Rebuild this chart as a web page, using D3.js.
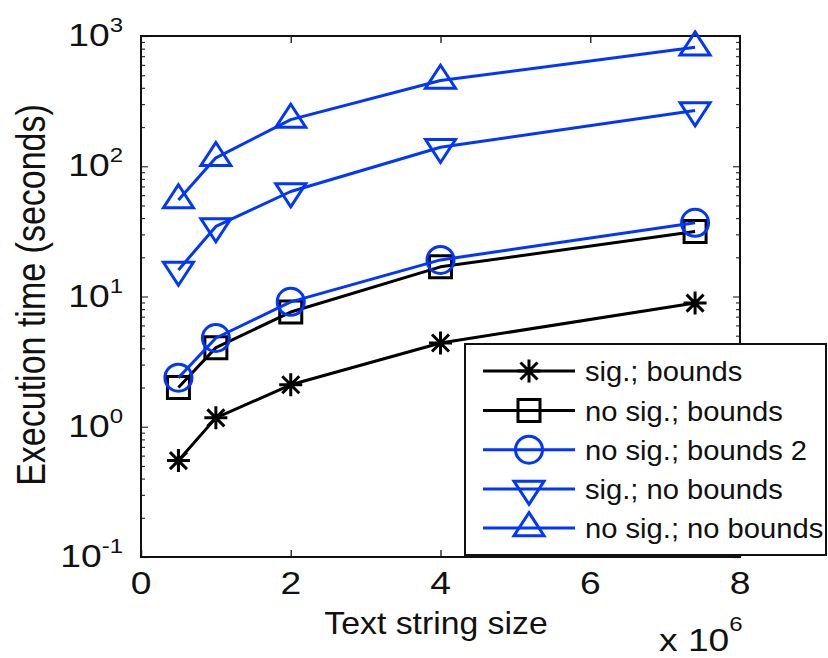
<!DOCTYPE html>
<html>
<head>
<meta charset="utf-8">
<script src="https://cdn.jsdelivr.net/npm/d3@7"></script>
<style>
  html, body { margin: 0; padding: 0; background: #fff; }
  svg { display: block; }
  text { font-family: "Liberation Sans", Arial, Helvetica, sans-serif; fill: #111; }
</style>
</head>
<body>
<svg id="chart" width="828" height="658"></svg>
<script>
// ---- data (x in units of 10^6 characters, y in seconds) ----
const textSizes = [0.5, 1, 2, 4, 7.4];
const sigBounds       = [0.55, 1.17, 2.1, 4.4, 8.9];
const noSigBounds     = [2.0, 4.05, 7.6, 16.9, 31.5];
const noSigBounds2    = [2.38, 4.8, 9.1, 19.1, 36.8];
const sigNoBounds     = [16, 34.5, 64, 140, 268];
const noSigNoBounds   = [55, 116, 228, 455, 820];
const seriesNames = ["sig.; bounds", "no sig.; bounds", "no sig.; bounds 2", "sig.; no bounds", "no sig.; no bounds"];
const xTickValues = [0, 2, 4, 6, 8];
const yTickValues = [0.1, 1, 10, 100, 1000];
const yTickExponents = ["-1", "0", "1", "2", "3"];

const BLUE = "#0036ff", BLACK = "#000";
const series = [
  { name: seriesNames[0], values: sigBounds,     color: BLACK, marker: "star" },
  { name: seriesNames[1], values: noSigBounds,   color: BLACK, marker: "square" },
  { name: seriesNames[2], values: noSigBounds2,  color: BLUE,  marker: "circle" },
  { name: seriesNames[3], values: sigNoBounds,   color: BLUE,  marker: "tridown" },
  { name: seriesNames[4], values: noSigNoBounds, color: BLUE,  marker: "triup" }
];

const svg = d3.select("#chart");
const L = 141, R = 740, T = 36, B = 557;
const x = d3.scaleLinear().domain([0, 8]).range([L, R]);
const y = d3.scaleLog().domain([0.1, 1000]).range([B, T]);

// helper: horizontally stretched text
function stretchedText(parent, px, py, sx, size, anchor) {
  return parent.append("g").attr("transform", `translate(${px},${py}) scale(${sx},1)`)
    .append("text").attr("x", 0).attr("y", 0).attr("font-size", size).attr("text-anchor", anchor || "start");
}

// marker paths
function markerPath(type) {
  if (type === "star") {
    const r = 11.5, a = 8.5;
    return `M${-r},0H${r}M0,${-r}V${r}M${-a},${-a}L${a},${a}M${-a},${a}L${a},${-a}`;
  }
  if (type === "square") { const s = 11; return `M${-s},${-s}H${s}V${s}H${-s}Z`; }
  if (type === "circle") { const r = 13.5; return `M${r},0A${r},${r} 0 1,1 ${-r},0A${r},${r} 0 1,1 ${r},0Z`; }
  const h = 23, w = 15;
  if (type === "triup") return `M0,${-2*h/3}L${w},${h/3}L${-w},${h/3}Z`;
  return `M0,${2*h/3}L${w},${-h/3}L${-w},${-h/3}Z`;
}

// axes (ticks only; frame drawn separately)
const xAxisB = d3.axisBottom(x).tickValues(xTickValues).tickSizeInner(-7).tickSizeOuter(0).tickFormat("");
const gx = svg.append("g").attr("transform", `translate(0,${B})`).call(xAxisB);
gx.select(".domain").remove();
gx.selectAll("line").attr("stroke", "#333").attr("stroke-width", 1.5);
const gxl = svg.append("g");
xTickValues.forEach(v => {
  stretchedText(gxl, x(v), 594, 1.2, 31, "middle").text(d3.format("d")(v));
});

const xAxisT = d3.axisTop(x).tickValues([2, 4, 6]).tickSizeInner(-7).tickSizeOuter(0).tickFormat("");
const gxt = svg.append("g").attr("transform", `translate(0,${T})`).call(xAxisT);
gxt.select(".domain").remove();
gxt.selectAll("line").attr("stroke", "#333").attr("stroke-width", 1.5);

// y minor + major ticks on both sides
const minor = [];
for (let d = -1; d <= 2; d++) for (let k = 2; k <= 9; k++) minor.push(k * Math.pow(10, d));
const yAxisL = d3.axisLeft(y).tickValues(minor).tickSizeInner(-4).tickSizeOuter(0).tickFormat("");
const yAxisR = d3.axisRight(y).tickValues(minor).tickSizeInner(-4).tickSizeOuter(0).tickFormat("");
const yAxisLM = d3.axisLeft(y).tickValues(yTickValues).tickSizeInner(-7).tickSizeOuter(0).tickFormat("");
const yAxisRM = d3.axisRight(y).tickValues(yTickValues).tickSizeInner(-7).tickSizeOuter(0).tickFormat("");
[[yAxisL, L], [yAxisR, R], [yAxisLM, L], [yAxisRM, R]].forEach(([ax, px]) => {
  const g = svg.append("g").attr("transform", `translate(${px},0)`).call(ax);
  g.select(".domain").remove();
  g.selectAll("line").attr("stroke", "#333").attr("stroke-width", 1.2);
});

// y tick labels 10^n
const gyl = svg.append("g");
yTickValues.forEach((v, i) => {
  const t = stretchedText(gyl, 123, y(v) + 10, 1.2, 31, "end");
  t.append("tspan").text("10");
  t.append("tspan").attr("font-size", 20).attr("dy", -14).text(yTickExponents[i]);
});

// frame
svg.append("rect").attr("x", L).attr("y", T).attr("width", R - L).attr("height", B - T)
  .attr("fill", "none").attr("stroke", "#111").attr("stroke-width", 2);

// series
const line = d3.line().x((d, i) => x(textSizes[i])).y(d => y(d));
const gs = svg.append("g");
series.forEach(s => {
  gs.append("path").datum(s.values).attr("d", line)
    .attr("fill", "none").attr("stroke", s.color).attr("stroke-width", 3).attr("stroke-linejoin", "round");
  gs.append("g").selectAll("path").data(s.values).join("path")
    .attr("transform", (d, i) => `translate(${x(textSizes[i])},${y(d)})`)
    .attr("d", markerPath(s.marker))
    .attr("fill", "none").attr("stroke", s.color).attr("stroke-width", 3);
});

// axis labels
stretchedText(svg, 436, 634, 1.09, 31, "middle").text("Text string size");
svg.append("g").attr("transform", "translate(45,295) scale(1.2,1) rotate(-90)")
  .append("text").attr("text-anchor", "middle").attr("font-size", 34).text("Execution time (seconds)");
const mult = stretchedText(svg, 659, 651, 1.2, 31, "start");
mult.append("tspan").text("x 10");
mult.append("tspan").attr("font-size", 20).attr("dy", -20).text("6");

// legend
const lg = svg.append("g");
lg.append("rect").attr("x", 465).attr("y", 344).attr("width", 361).attr("height", 211)
  .attr("fill", "#fff").attr("stroke", "#111").attr("stroke-width", 2);
const rowY = [371, 410.5, 449.7, 489, 528];
series.forEach((s, i) => {
  const ry = rowY[i];
  lg.append("line").attr("x1", 483).attr("x2", 575).attr("y1", ry).attr("y2", ry)
    .attr("stroke", s.color).attr("stroke-width", 3);
  lg.append("path").attr("transform", `translate(529,${ry})`).attr("d", markerPath(s.marker))
    .attr("fill", "none").attr("stroke", s.color).attr("stroke-width", 3);
  stretchedText(lg, 585, ry + 10, 1.08, 27, "start").text(s.name);
});
</script>
</body>
</html>
